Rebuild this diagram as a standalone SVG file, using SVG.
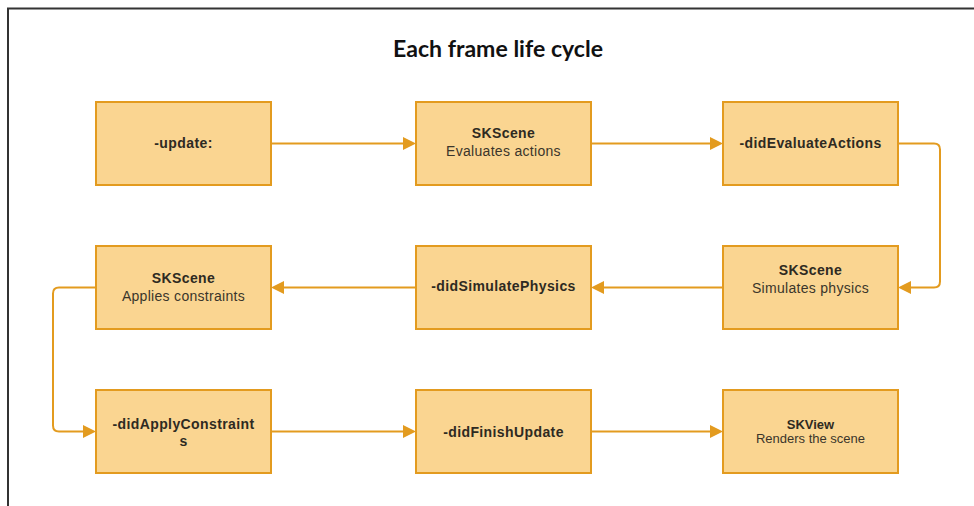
<svg xmlns="http://www.w3.org/2000/svg" width="974" height="506" viewBox="0 0 974 506">
  <style>
    .frame { fill: none; stroke: #333333; stroke-width: 2; }
    .box { fill: #fad591; stroke: #e39b1f; stroke-width: 2; }
    .title { font-family: Lato, "Open Sans", sans-serif; font-weight: bold; font-size: 22px; fill: #111111; }
    .b { font-family: "Liberation Sans", Arial, sans-serif; font-weight: bold; font-size: 14px; letter-spacing: 0.4px; fill: #2e2a22; }
    .r { font-family: "Liberation Sans", Arial, sans-serif; font-size: 14px; letter-spacing: 0.3px; fill: #3a352b; }
    .bs { font-family: "Liberation Sans", Arial, sans-serif; font-weight: bold; font-size: 13px; fill: #2e2a22; }
    .rs { font-family: "Liberation Sans", Arial, sans-serif; font-size: 13px; fill: #3a352b; }
    .link { fill: none; stroke: #e39b1f; stroke-width: 2; stroke-linejoin: round; }
  </style>
  <defs>
    <marker id="arrow" markerUnits="userSpaceOnUse" markerWidth="14" markerHeight="14" refX="7" refY="6.5" orient="auto">
      <path d="M0,0 L13,6.5 L0,13 Z" fill="#e39b1f"/>
    </marker>
  </defs>

  <rect width="974" height="506" fill="#ffffff"/>
  <!-- page frame: only top and left edges are visible -->
  <path class="frame" d="M8,506 L8,8.5 L974,8.5"/>

  <text class="title" x="498" y="57" text-anchor="middle" textLength="210" lengthAdjust="spacingAndGlyphs">Each frame life cycle</text>

  <g id="connectors">
    <path class="link" d="M271,143.5 L410,143.5" marker-end="url(#arrow)"/>
    <path class="link" d="M591,143.5 L717,143.5" marker-end="url(#arrow)"/>
    <path class="link" d="M898,143.5 L934,143.5 Q940,143.5 940,149.5 L940,281.5 Q940,287.5 934,287.5 L904,287.5" marker-end="url(#arrow)"/>
    <path class="link" d="M723,287.5 L597,287.5" marker-end="url(#arrow)"/>
    <path class="link" d="M416,287.5 L277,287.5" marker-end="url(#arrow)"/>
    <path class="link" d="M96,287.5 L59,287.5 Q53,287.5 53,293.5 L53,425.5 Q53,431.5 59,431.5 L90,431.5" marker-end="url(#arrow)"/>
    <path class="link" d="M271,431.5 L410,431.5" marker-end="url(#arrow)"/>
    <path class="link" d="M591,431.5 L717,431.5" marker-end="url(#arrow)"/>
  </g>

  <g id="node-update">
    <rect class="box" x="96" y="102" width="175" height="83"/>
    <text class="b" x="183.5" y="148" text-anchor="middle">-update:</text>
  </g>
  <g id="node-evaluate-actions">
    <rect class="box" x="416" y="102" width="175" height="83"/>
    <text class="b" x="503.5" y="138" text-anchor="middle">SKScene</text>
    <text class="r" x="503.5" y="156" text-anchor="middle">Evaluates actions</text>
  </g>
  <g id="node-did-evaluate-actions">
    <rect class="box" x="723" y="102" width="175" height="83"/>
    <text class="b" x="810.5" y="148" text-anchor="middle">-didEvaluateActions</text>
  </g>
  <g id="node-simulates-physics">
    <rect class="box" x="723" y="246" width="175" height="83"/>
    <text class="b" x="810.5" y="275" text-anchor="middle">SKScene</text>
    <text class="r" x="810.5" y="293" text-anchor="middle">Simulates physics</text>
  </g>
  <g id="node-did-simulate-physics">
    <rect class="box" x="416" y="246" width="175" height="83"/>
    <text class="b" x="503.5" y="291" text-anchor="middle">-didSimulatePhysics</text>
  </g>
  <g id="node-applies-constraints">
    <rect class="box" x="96" y="246" width="175" height="83"/>
    <text class="b" x="183.5" y="283" text-anchor="middle">SKScene</text>
    <text class="r" x="183.5" y="301" text-anchor="middle">Applies constraints</text>
  </g>
  <g id="node-did-apply-constraints">
    <rect class="box" x="96" y="390" width="175" height="83"/>
    <text class="b" x="183.5" y="428.5" text-anchor="middle">-didApplyConstraint</text>
    <text class="b" x="183.5" y="445.5" text-anchor="middle">s</text>
  </g>
  <g id="node-did-finish-update">
    <rect class="box" x="416" y="390" width="175" height="83"/>
    <text class="b" x="503.5" y="437" text-anchor="middle">-didFinishUpdate</text>
  </g>
  <g id="node-renders-scene">
    <rect class="box" x="723" y="390" width="175" height="83"/>
    <text class="bs" x="810.5" y="428.5" text-anchor="middle">SKView</text>
    <text class="rs" x="810.5" y="443" text-anchor="middle">Renders the scene</text>
  </g>
</svg>
